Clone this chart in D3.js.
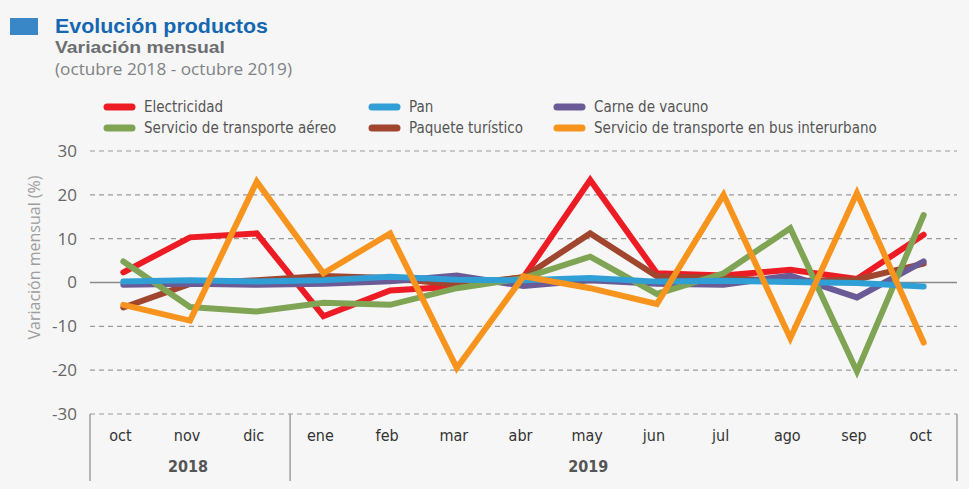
<!DOCTYPE html>
<html>
<head>
<meta charset="utf-8">
<script src="https://cdn.jsdelivr.net/npm/d3@7"></script>
<style>
  html, body { margin: 0; padding: 0; background: #f6f6f6; }
  svg { display: block; }
  .narrow { font-family: "Liberation Sans Narrow", "DejaVu Sans Condensed", sans-serif; }
  .open { font-family: "Open Sans", sans-serif; }
  .head { font-family: "Liberation Sans", Arial, sans-serif; }
</style>
</head>
<body>
<svg width="969" height="489"></svg>
<script>
// months shown on the x axis
const months = ['oct', 'nov', 'dic', 'ene', 'feb', 'mar', 'abr', 'may', 'jun', 'jul', 'ago', 'sep', 'oct'];
const years = [{ label: '2018', from: 0, to: 3 }, { label: '2019', from: 3, to: 13 }];
const yTicks = [30, 20, 10, 0, -10, -20, -30];

// monthly variation (%)
const electricidad = [2.3, 10.3, 11.2, -7.7, -1.8, -0.9, 1.2, 23.4, 2.1, 1.6, 2.9, 0.8, 10.9];
const pan = [0.2, 0.5, 0.2, 0.5, 1.3, 0.6, 0.5, 1.0, 0.2, 0.4, 0.1, -0.1, -0.9];
const carne = [-0.5, -0.3, -0.5, -0.3, 0.3, 1.6, -0.8, 0.5, -0.3, -0.5, 1.6, -3.4, 4.8];
const aereo = [4.8, -5.6, -6.6, -4.6, -5.1, -1.3, 1.0, 5.9, -2.6, 2.1, 12.4, -20.3, 15.4];
const paquete = [-5.7, -0.3, 0.5, 1.5, 1.0, -0.5, 1.2, 11.2, 1.4, 1.0, 0.3, 0.7, 4.3];
const bus = [-5.1, -8.7, 23.0, 2.1, 11.2, -19.5, 1.4, -1.3, -4.9, 20.0, -12.7, 20.4, -13.7];

const series = [
  { name: 'Electricidad', values: electricidad, color: '#ed1c24', col: 0, row: 0 },
  { name: 'Servicio de transporte aéreo', values: aereo, color: '#7fa454', col: 0, row: 1 },
  { name: 'Pan', values: pan, color: '#2f9fd6', col: 1, row: 0 },
  { name: 'Paquete turístico', values: paquete, color: '#a0452e', col: 1, row: 1 },
  { name: 'Carne de vacuno', values: carne, color: '#6a5a96', col: 2, row: 0 },
  { name: 'Servicio de transporte en bus interurbano', values: bus, color: '#f7941d', col: 2, row: 1 }
];
// drawing order (last on top)
const drawOrder = ['Electricidad', 'Paquete turístico', 'Carne de vacuno', 'Servicio de transporte aéreo', 'Pan', 'Servicio de transporte en bus interurbano'];

const svg = d3.select('svg');

// header
svg.append('rect').attr('x', 10).attr('y', 18).attr('width', 28).attr('height', 17).attr('fill', '#3a87c8');
svg.append('text').attr('class', 'head').attr('x', 55).attr('y', 33)
  .attr('font-size', 21).attr('font-weight', 700).attr('fill', '#1467b0')
  .attr('textLength', 213).attr('lengthAdjust', 'spacingAndGlyphs')
  .text('Evolución productos');
svg.append('text').attr('class', 'head').attr('x', 55).attr('y', 53)
  .attr('font-size', 17).attr('font-weight', 700).attr('fill', '#6d6e71')
  .attr('textLength', 170).attr('lengthAdjust', 'spacingAndGlyphs')
  .text('Variación mensual');
svg.append('text').attr('class', 'open').attr('x', 55).attr('y', 75)
  .attr('font-size', 16).attr('fill', '#808285')
  .attr('textLength', 237).attr('lengthAdjust', 'spacingAndGlyphs')
  .text('(octubre 2018 - octubre 2019)');

// scales
const x = d3.scaleBand().domain(d3.range(months.length)).range([90, 957]);
const y = d3.scaleLinear().domain([-30, 30]).range([414, 151]);
const cx = i => x(i) + x.bandwidth() / 2;

// grid
const grid = svg.append('g');
grid.selectAll('line')
  .data(yTicks)
  .join('line')
  .attr('x1', 90).attr('x2', 957)
  .attr('y1', d => y(d)).attr('y2', d => y(d))
  .attr('stroke', d => d === 0 ? '#8a8a8a' : '#9a9a9a')
  .attr('stroke-width', d => d === 0 ? 1.5 : 1.2)
  .attr('stroke-dasharray', d => d === 0 ? null : '5,4');

// y axis labels (plain hyphen as in the original)
const axisY = d3.axisLeft(y).tickValues(yTicks).tickSize(0).tickPadding(13).tickFormat(d => String(d));
svg.append('g')
  .attr('transform', 'translate(90, 0)')
  .call(axisY)
  .call(g => g.select('.domain').remove())
  .call(g => g.selectAll('text').attr('class', 'open').attr('font-size', 17).attr('fill', '#666'));

svg.append('text').attr('class', 'open')
  .attr('transform', `translate(40, ${y(0) - 25}) rotate(-90)`)
  .attr('text-anchor', 'middle')
  .attr('font-size', 16).attr('fill', '#9d9d9d')
  .text('Variación mensual (%)');

// x axis: month labels and year groups
const axisX = svg.append('g');
axisX.selectAll('text.month')
  .data(months)
  .join('text')
  .attr('class', 'month narrow')
  .attr('x', (d, i) => cx(i) - 3)
  .attr('y', 441)
  .attr('text-anchor', 'middle')
  .attr('font-size', 16).attr('fill', '#333')
  .text(d => d);

// year label sits under the middle month of its group
axisX.selectAll('text.year')
  .data(years)
  .join('text')
  .attr('class', 'year narrow')
  .attr('x', d => cx(Math.floor((d.from + d.to - 1) / 2)) - 2)
  .attr('y', 472)
  .attr('text-anchor', 'middle')
  .attr('font-size', 16).attr('font-weight', 700).attr('fill', '#555')
  .text(d => d.label);

const bounds = [0, 3, 13];
axisX.selectAll('line.sep')
  .data(bounds)
  .join('line')
  .attr('class', 'sep')
  .attr('x1', d => d === 13 ? 957 : x(d)).attr('x2', d => d === 13 ? 957 : x(d))
  .attr('y1', 414).attr('y2', 481)
  .attr('stroke', '#8a8a8a').attr('stroke-width', 1.2);

// lines
const line = d3.line()
  .x((d, i) => cx(i))
  .y(d => y(d));

svg.append('g')
  .selectAll('path')
  .data(drawOrder.map(n => series.find(s => s.name === n)))
  .join('path')
  .attr('d', d => line(d.values))
  .attr('fill', 'none')
  .attr('stroke', d => d.color)
  .attr('stroke-width', 6)
  .attr('stroke-linejoin', 'miter')
  .attr('stroke-linecap', 'round');

// legend
const colX = [104, 369, 554];
const rowY = [107, 128];
const legend = svg.append('g')
  .selectAll('g')
  .data(series)
  .join('g')
  .attr('transform', d => `translate(${colX[d.col]}, ${rowY[d.row]})`);

legend.append('line')
  .attr('x1', 3).attr('x2', 28)
  .attr('y1', 0).attr('y2', 0)
  .attr('stroke', d => d.color)
  .attr('stroke-width', 7)
  .attr('stroke-linecap', 'round');

legend.append('text')
  .attr('class', 'narrow')
  .attr('x', 40)
  .attr('y', 0)
  .attr('dy', '0.35em')
  .attr('font-size', 15).attr('fill', '#555')
  .text(d => d.name);
</script>
</body>
</html>
